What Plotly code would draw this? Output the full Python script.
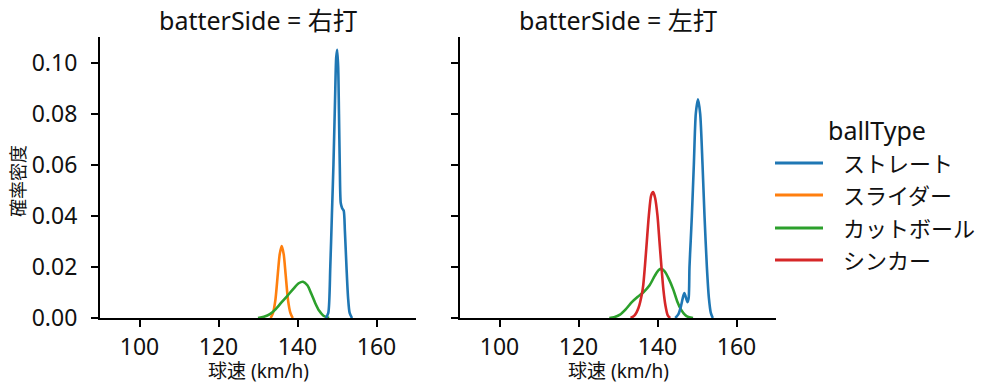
import plotly.graph_objects as go

# ---- data ----
panels = ["右打", "左打"]
ball_types = ["ストレート", "スライダー", "カットボール", "シンカー"]
colors = ["#1f77b4", "#ff7f0e", "#2ca02c", "#d62728"]

# 右打 panel
r_straight_x = [147.2, 147.8, 148.3, 148.7, 149.1, 149.5, 149.8, 150.05, 150.3, 150.5, 150.7, 150.95, 151.3, 151.7, 152.0, 152.4, 152.8, 153.2, 153.8]
r_straight_y = [0, 0.002, 0.02, 0.04, 0.06, 0.085, 0.102, 0.105, 0.098, 0.08, 0.06, 0.045, 0.043, 0.042, 0.034, 0.02, 0.008, 0.002, 0]
r_slider_x = [133.2, 133.8, 134.4, 135.0, 135.5, 136.0, 136.5, 137.0, 137.6, 138.2, 138.8]
r_slider_y = [0, 0.002, 0.007, 0.017, 0.025, 0.0282, 0.025, 0.017, 0.007, 0.002, 0]
r_cutter_x = [130.0, 131.5, 133.0, 134.5, 136.0, 137.5, 139.0, 140.3, 141.4, 142.5, 143.5, 144.5, 145.5, 146.5, 148.0]
r_cutter_y = [0, 0.0005, 0.0015, 0.0035, 0.0062, 0.0088, 0.0115, 0.0136, 0.0142, 0.0128, 0.0095, 0.0058, 0.0028, 0.001, 0]

# 左打 panel
l_straight_x = [144.5, 145.3, 146.0, 146.5, 146.8, 147.2, 147.6, 147.9, 148.1, 148.4, 148.7, 149.2, 149.7, 150.25, 150.8, 151.4, 151.9, 152.5, 153.0, 153.5, 154.0]
l_straight_y = [0, 0.0015, 0.005, 0.0085, 0.0098, 0.008, 0.0062, 0.008, 0.02, 0.03, 0.04, 0.06, 0.08, 0.0856, 0.08, 0.06, 0.04, 0.02, 0.008, 0.002, 0]
l_cutter_x = [127.8, 129.0, 130.5, 132.0, 133.5, 135.0, 136.5, 138.0, 139.3, 140.3, 141.05, 141.8, 142.8, 144.0, 145.0, 146.0, 147.0, 148.0, 149.0]
l_cutter_y = [0, 0.0003, 0.0013, 0.0035, 0.0062, 0.0083, 0.0102, 0.0128, 0.0165, 0.0188, 0.0192, 0.0183, 0.0155, 0.0111, 0.0065, 0.0032, 0.0012, 0.0003, 0]
l_sinker_x = [133.2, 134.2, 135.2, 136.0, 136.4, 136.8, 137.3, 137.8, 138.4, 138.9, 139.4, 140.0, 140.5, 141.0, 141.5, 142.0, 142.6, 143.2]
l_sinker_y = [0, 0.001, 0.004, 0.009, 0.013, 0.02, 0.03, 0.04, 0.048, 0.0493, 0.047, 0.04, 0.03, 0.02, 0.011, 0.005, 0.001, 0]

x_ticks = [100, 120, 140, 160]
y_ticks = [0.00, 0.02, 0.04, 0.06, 0.08, 0.10]
y_tick_labels = ["0.00", "0.02", "0.04", "0.06", "0.08", "0.10"]

FONT = "Noto Sans, Noto Sans CJK JP"
TXT = "#111"

fig = go.Figure()

def add(x, y, idx, axis):
    fig.add_trace(go.Scatter(
        x=x, y=y, mode="lines",
        line=dict(color=colors[idx], width=2.6, shape="spline", smoothing=0.7),
        name=ball_types[idx], showlegend=False,
        xaxis="x" if axis == 1 else "x2", yaxis="y" if axis == 1 else "y2",
        hoverinfo="skip"))

add(r_slider_x, r_slider_y, 1, 1)
add(r_cutter_x, r_cutter_y, 2, 1)
add(r_straight_x, r_straight_y, 0, 1)
add(l_cutter_x, l_cutter_y, 2, 2)
add(l_sinker_x, l_sinker_y, 3, 2)
add(l_straight_x, l_straight_y, 0, 2)

W = 676.0   # plot area width (px)
H = 281.0   # plot area height (px)
X0, Y0 = 100.0, 318.0  # page px of plot origin

def px(xp):
    return (xp - X0) / W

def py(yp):
    return (Y0 - yp) / H

common_x = dict(range=[90, 170], tickvals=x_ticks, showline=True, linecolor="black",
                linewidth=2.2, ticks="outside", ticklen=7, tickwidth=2, tickcolor="black",
                showgrid=False, zeroline=False, tickfont=dict(family=FONT, size=23, color=TXT))
common_y = dict(range=[0, 0.11], tickvals=y_ticks, ticktext=y_tick_labels, showline=True,
                linecolor="black", linewidth=2.2, ticks="outside", ticklen=7, tickwidth=2,
                tickcolor="black", showgrid=False, zeroline=False, ticklabelstandoff=9,
                tickfont=dict(family=FONT, size=23, color=TXT))

fig.update_layout(
    width=997, height=391,
    margin=dict(l=100, r=221, t=37, b=73, autoexpand=False),
    paper_bgcolor="white", plot_bgcolor="white",
    showlegend=False,
    xaxis=dict(domain=[0, 316 / W], anchor="y", **common_x),
    yaxis=dict(domain=[0, 1], anchor="x", **common_y),
    xaxis2=dict(domain=[360 / W, 1], anchor="y2", **common_x),
    yaxis2=dict(domain=[0, 1], anchor="x2", showticklabels=False, **common_y),
)

ann = []
for i, p in enumerate(panels):
    cx = px(258 + i * 360)
    ann.append(dict(text=f"batterSide = {p}", x=cx, y=py(20), xref="paper", yref="paper",
                    xanchor="center", yanchor="middle", showarrow=False,
                    font=dict(family=FONT, size=25, color=TXT)))
    ann.append(dict(text="球速 (km/h)", x=cx, y=py(371), xref="paper", yref="paper",
                    xanchor="center", yanchor="middle", showarrow=False,
                    font=dict(family=FONT, size=19, color=TXT)))
ann.append(dict(text="確率密度", x=px(18), y=py(181), xref="paper", yref="paper", textangle=-90,
                xanchor="center", yanchor="middle", showarrow=False,
                font=dict(family=FONT, size=18, color=TXT)))

# legend (drawn manually to match the reference layout)
shapes = []
ann.append(dict(text="ballType", x=px(877), y=py(130), xref="paper", yref="paper",
                xanchor="center", yanchor="middle", showarrow=False,
                font=dict(family=FONT, size=25, color=TXT)))
leg_y = [163, 195, 228, 260]
for i, name in enumerate(ball_types):
    yy = py(leg_y[i])
    shapes.append(dict(type="line", xref="paper", yref="paper",
                       x0=px(775), x1=px(823), y0=yy, y1=yy,
                       line=dict(color=colors[i], width=2.8)))
    ann.append(dict(text=name, x=px(841), y=yy, xref="paper", yref="paper",
                    xanchor="left", yanchor="middle", showarrow=False,
                    font=dict(family=FONT, size=22, color=TXT)))

fig.update_layout(annotations=ann, shapes=shapes)
# remove the browser's default 8px body margin so the figure sits at the page origin
fig.write_html("out.html", config={"displayModeBar": False},
               post_script="document.body.style.margin='0';")
